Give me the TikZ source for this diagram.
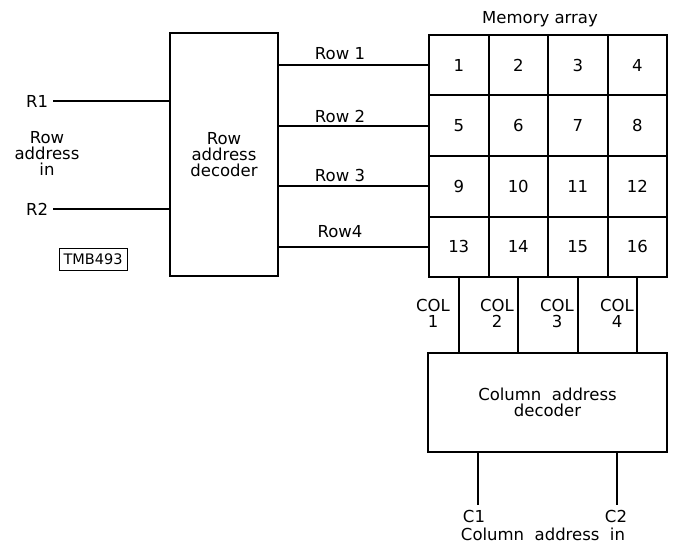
\documentclass[tikz,border=0pt]{standalone}
\usepackage{fontspec}
\setmainfont{DejaVu Sans}
\begin{document}
\begin{tikzpicture}[x=1pt,y=-1pt,line width=2pt,
  font=\fontsize{16.5}{16}\selectfont,
  box/.style={draw,line width=2pt,inner sep=0pt,align=center},
  cell/.style={draw,line width=2pt,minimum width=59.5pt,minimum height=60.5pt,inner sep=0pt},
  lbl/.style={inner sep=0pt,align=center},
  wire/.style={line width=2pt},
  tag/.style={draw,line width=0.9pt,minimum width=68pt,minimum height=22pt,inner sep=0pt,font=\fontsize{14.5}{14}\selectfont}]
\useasboundingbox (0,0) rectangle (673,543);

% row decoder
\node[box,minimum width=108pt,minimum height=243pt] (rdec) at (224,154.5) {Row\\address\\decoder};

% memory cells
\foreach \r in {0,...,3}{
  \foreach \c in {0,...,3}{
    \pgfmathtruncatemacro\n{4*\r+\c+1}
    \node[cell] (c\n) at ({429+59.5*(\c+0.5)},{35+60.5*(\r+0.5)}) {\n};
  }
}
\node[lbl] (memlbl) at (540,19) {Memory array};

% column decoder
\node[box,minimum width=239pt,minimum height=99pt] (cdec) at (547.5,402.5) {Column\ \ address\\decoder};

% row address inputs
\coordinate (r1) at (53,101);
\coordinate (r2) at (53,209);
\node[lbl,anchor=east] (r1l) at (49,101) {R1};
\node[lbl,anchor=east] (r2l) at (49,209) {R2};
\draw[wire] (r1) -- (r1 -| rdec.west);
\draw[wire] (r2) -- (r2 -| rdec.west);
\node[lbl] (rain) at (47,153) {Row\\address\\in};
\node[tag] (tmb) at (93,259) {TMB493};

% row lines
\foreach \k/\t/\ly in {1/Row 1/54,5/Row 2/116,9/Row 3/175,13/Row4/232}{
  \draw[wire] (rdec.east |- c\k.west) -- (c\k.west);
  \node[lbl] at (340,\ly) {\t};
}

% column lines
\foreach \k/\t/\lx in {13/1/433,14/2/497,15/3/557,16/4/617}{
  \draw[wire] (c\k.south) -- (c\k.south |- cdec.north);
  \node[lbl] at (\lx,313) {COL\\\t};
}

% column address inputs
\coordinate (cin1) at (478,505);
\coordinate (cin2) at (617,505);
\draw[wire] (cin1 |- cdec.south) -- (cin1);
\draw[wire] (cin2 |- cdec.south) -- (cin2);
\node[lbl] (c1l) at (474,516) {C1};
\node[lbl] (c2l) at (616,516) {C2};
\node[lbl] (cain) at (543,534) {Column\ \ address\ \ in};
\end{tikzpicture}
\end{document}
